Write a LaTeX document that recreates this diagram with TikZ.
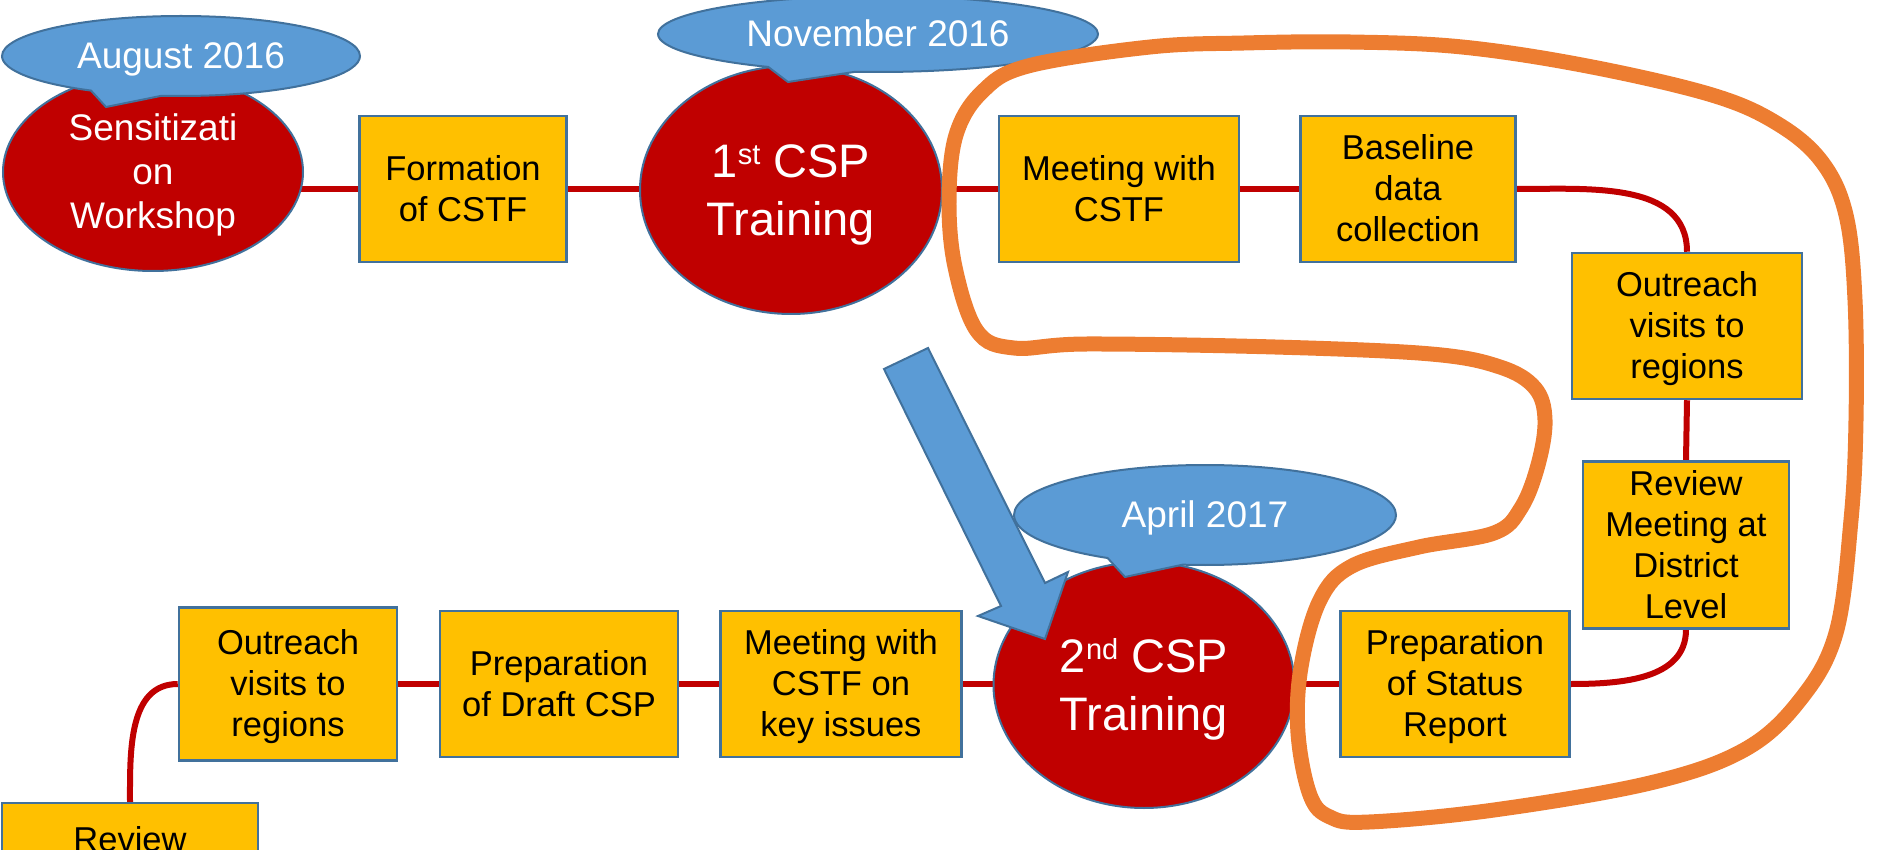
\documentclass[tikz,border=0pt]{standalone}
\usepackage{fontspec}
\setmainfont{Liberation Sans}
\usetikzlibrary{shapes.geometric,shapes.callouts}
\definecolor{cred}{HTML}{C00000}
\definecolor{cgold}{HTML}{FFC000}
\definecolor{cblue}{HTML}{5B9BD5}
\definecolor{cedge}{HTML}{41719C}
\definecolor{corange}{HTML}{ED7D31}
\newcommand{\supr}[1]{\raisebox{13pt}{\fontsize{29}{29}\selectfont #1}}
\newcommand{\ls}{\rule[-0.212em]{0pt}{1.117em}}
\pgfdeclarelayer{bg}
\pgfsetlayers{bg,main}
\begin{document}
\begin{tikzpicture}[x=1pt,y=-1pt,
  stepbox/.style={draw=cedge,line width=2.5pt,fill=cgold,rectangle,inner sep=0pt,align=center,font=\fontsize{34.5}{41}\selectfont},
  redell/.style={ellipse,draw=cedge,line width=2pt,fill=cred,text=white,inner sep=0pt,align=center},
  datecall/.style={ellipse callout,draw=cedge,line width=2pt,fill=cblue,text=white,inner sep=0pt,font=\fontsize{37}{44}\selectfont,callout pointer arc=24},
  conn/.style={draw=cred,line width=6pt},
  loopline/.style={draw=corange,line width=15pt},
  blockarrow/.style={fill=cblue,draw=cedge,line width=2pt,line join=miter},
]
\useasboundingbox (0,0) rectangle (1883,850);
\clip (0,0) rectangle (1883,850);

% top row
\node[redell,minimum width=300,minimum height=198,font=\fontsize{37}{44}\selectfont] (sens) at (153,172) {\ls Sensitizati\\on\\Workshop\ls};
\node[stepbox,minimum width=207,minimum height=146] (form) at (463,189) {\ls Formation\\of CSTF\ls};
\node[redell,minimum width=302,minimum height=248,font=\fontsize{47}{58}\selectfont] (csp1) at (791,190) {\ls 1\supr{st} CSP\\Training\ls};
\node[stepbox,minimum width=240,minimum height=146] (meet1) at (1119,189) {\ls Meeting with\\CSTF\ls};
\node[stepbox,minimum width=215,minimum height=146] (base) at (1408,189) {\ls Baseline\\data\\collection\ls};
\node[stepbox,minimum width=230,minimum height=146] (out1) at (1687,326) {\ls Outreach\\visits to\\regions\ls};
\node[stepbox,minimum width=206,minimum height=167] (rev1) at (1686,545) {\ls Review\\Meeting at\\District\\Level\ls};

% bottom row
\node[stepbox,minimum width=229,minimum height=146] (stat) at (1455,684) {\ls Preparation\\of Status\\Report\ls};
\node[redell,minimum width=301,minimum height=246,font=\fontsize{47}{58}\selectfont] (csp2) at (1144,685) {\ls 2\supr{nd} CSP\\Training\ls};
\node[stepbox,minimum width=241,minimum height=146] (meet2) at (841,684) {\ls Meeting with\\CSTF on\\key issues\ls};
\node[stepbox,minimum width=238,minimum height=146] (draft) at (559,684) {\ls Preparation\\of Draft CSP\ls};
\node[stepbox,minimum width=218,minimum height=153] (out2) at (288,684) {\ls Outreach\\visits to\\regions\ls};
\node[stepbox,minimum width=256,minimum height=74] (rev2) at (130,840) {\ls Review};

% connectors
\begin{pgfonlayer}{bg}
\draw[conn] (form.west) -- (form.west -| sens.center);
\draw[conn] (form.east) -- (form.east -| csp1.center);
\draw[conn] (meet1.west) -- (meet1.west -| csp1.center);
\draw[conn] (meet1.east) -- (base.west);
\draw[conn] (base.east) to[out=0,in=90] (out1.north);
\draw[conn] (out1.south) -- (rev1.north);
\draw[conn] (rev1.south) to[out=-90,in=0] (stat.east);
\draw[conn] (stat.west) -- (stat.west -| csp2.center);
\draw[conn] (meet2.east) -- (meet2.east -| csp2.center);
\draw[conn] (meet2.west) -- (draft.east);
\draw[conn] (draft.west) -- (out2.east);
\draw[conn] (rev2.north) to[out=90,in=180] (out2.west);
\end{pgfonlayer}

% date callouts
\coordinate (augtip) at (106,107);
\coordinate (novtip) at (788,82);
\coordinate (aprtip) at (1125,577);
\node[datecall,minimum width=358,minimum height=80,callout absolute pointer={(augtip)}] (aug) at (181,56) {\ls August 2016};
\node[datecall,minimum width=440,minimum height=76,callout absolute pointer={(novtip)}] (nov) at (878,34) {\ls November 2016};
\node[datecall,minimum width=382,minimum height=100,callout absolute pointer={(aprtip)}] (apr) at (1205,515) {\ls April 2017};

% orange loop
\draw[loopline] plot[smooth cycle,tension=0.6] coordinates {
 (949,200) (956,135) (982,92) (1028,66) (1150,47) (1244,43) (1350,42) (1462,47)
 (1587,66) (1712,95) (1778,124) (1822,162) (1846,215) (1855,300) (1856,420)
 (1851,520) (1836,633) (1800,700) (1744,750) (1650,783) (1494,810) (1369,822)
 (1330,817) (1310,795) (1298,733) (1301,667) (1320,600) (1352,566) (1419,547)
 (1494,533) (1521,508) (1538,465) (1545,420) (1535,388) (1500,367) (1431,354)
 (1275,347) (1087,344) (1014,348) (977,331) (955,267)};

% big blue arrow
\draw[blockarrow] (884,369) -- (928,348) -- (1045,583) -- (1068,572) -- (1045,639) -- (978,616) -- (1001,606) -- cycle;
\end{tikzpicture}
\end{document}
